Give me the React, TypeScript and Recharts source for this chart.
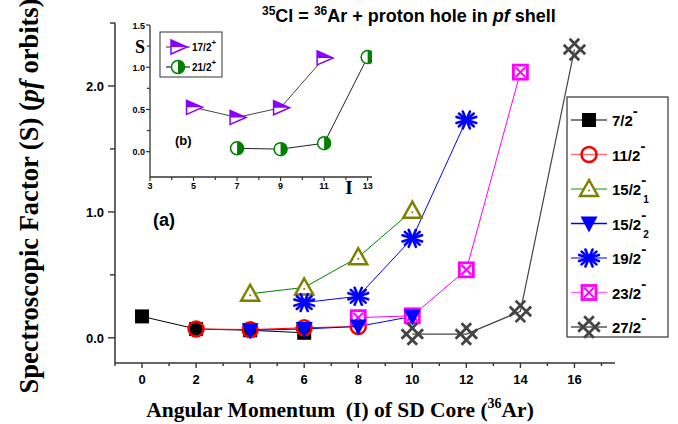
import React from 'react';
import { LineChart, Line, XAxis, YAxis } from 'recharts';

// ---------- main panel (a) data ----------
const I_72 = [0, 2, 4, 6];
const S_72 = [0.17, 0.07, 0.06, 0.04];
const I_112 = [2, 4, 6, 8];
const S_112 = [0.07, 0.065, 0.08, 0.09];
const I_152a = [4, 6, 8, 10];
const S_152a = [0.35, 0.4, 0.64, 1.01];
const I_152b = [4, 6, 8, 10];
const S_152b = [0.06, 0.07, 0.09, 0.17];
const I_192 = [6, 8, 10, 12];
const S_192 = [0.28, 0.33, 0.79, 1.73];
const I_232 = [8, 10, 12, 14];
const S_232 = [0.16, 0.175, 0.54, 2.11];
const I_272 = [10, 12, 14, 16];
const S_272 = [0.03, 0.03, 0.21, 2.29];

// ---------- inset panel (b) data ----------
const I_172p = [5, 7, 9, 11];
const S_172p = [0.525, 0.405, 0.52, 1.11];
const I_212p = [7, 9, 11, 13];
const S_212p = [0.04, 0.03, 0.1, 1.12];

const X_TICKS = [-1, 0, 1, 2, 3, 4, 5, 6, 7, 8, 9, 10, 11, 12, 13, 14, 15, 16, 17];
const Y_TICKS = [0, 0.5, 1, 1.5, 2, 2.5];
const INSET_X_TICKS = [3, 4, 5, 6, 7, 8, 9, 10, 11, 12, 13];
const INSET_Y_TICKS = [0, 0.25, 0.5, 0.75, 1, 1.25, 1.5];

const zip = (xs: number[], ys: number[]) => xs.map((x, i) => ({ x, y: ys[i] }));

const SANS = 'Liberation Sans, Arial, sans-serif';
const SERIF = 'Liberation Serif, Times New Roman, serif';
const AX = '#333';

// ---------- marker shapes ----------
const mkSquare = (cx: number, cy: number, k?: any) => (
  <rect key={k} x={cx - 7} y={cy - 7} width={14} height={14} fill="#000" />
);
const mkCircle = (cx: number, cy: number, k?: any) => (
  <circle key={k} cx={cx} cy={cy} r={7.5} fill="none" stroke="#ff0000" strokeWidth={2.5} />
);
const mkTriUp = (cx: number, cy: number, k?: any) => (
  <g key={k}>
    <polygon points={`${cx},${cy - 9} ${cx - 9},${cy + 7} ${cx + 9},${cy + 7}`} fill="#fff" stroke="#808000" strokeWidth={2.5} strokeLinejoin="miter" />
    <circle cx={cx} cy={cy + 1.5} r={1} fill="#808000" />
  </g>
);
const mkTriDown = (cx: number, cy: number, k?: any) => (
  <polygon key={k} points={`${cx - 8.5},${cy - 7} ${cx + 8.5},${cy - 7} ${cx},${cy + 9}`} fill="#0000ff" />
);
const mkStar = (cx: number, cy: number, k?: any) => {
  const angs = [20, 45, 70, 110, 135, 160];
  return (
    <g key={k} stroke="#0000ff" strokeWidth={2.6} strokeLinecap="round">
      {angs.map((a) => {
        const r = (a * Math.PI) / 180;
        const dx = Math.cos(r) * 10.5;
        const dy = Math.sin(r) * 9;
        return <line key={a} x1={cx - dx} y1={cy - dy} x2={cx + dx} y2={cy + dy} />;
      })}
    </g>
  );
};
const mkBoxX = (cx: number, cy: number, k?: any) => (
  <g key={k}>
    <rect x={cx - 7} y={cy - 7} width={14} height={14} fill="#fff" stroke="#ff00ff" strokeWidth={2.8} />
    <line x1={cx - 5} y1={cy - 5} x2={cx + 5} y2={cy + 5} stroke="#ff00ff" strokeWidth={2} />
    <line x1={cx - 5} y1={cy + 5} x2={cx + 5} y2={cy - 5} stroke="#ff00ff" strokeWidth={2} />
  </g>
);
const mkHatch = (cx: number, cy: number, k?: any) => {
  const d = 4.2;
  const L = 11;
  const s = Math.SQRT1_2;
  const segs: any[] = [];
  [-d, d].forEach((o, i) => {
    const ox = o * s, oy = -o * s;
    segs.push(<line key={'a' + i} x1={cx + ox - L * s} y1={cy + oy - L * s} x2={cx + ox + L * s} y2={cy + oy + L * s} />);
  });
  [-d, d].forEach((o, i) => {
    const ox = o * s, oy = o * s;
    segs.push(<line key={'b' + i} x1={cx + ox - L * s} y1={cy + oy + L * s} x2={cx + ox + L * s} y2={cy + oy - L * s} />);
  });
  return (
    <g key={k} stroke="#444" strokeWidth={2.8} strokeLinecap="butt">
      {segs}
    </g>
  );
};
const mkHalfTri = (cx: number, cy: number, k?: any) => (
  <g key={k}>
    <polygon points={`${cx - 7},${cy - 7} ${cx - 7},${cy + 7} ${cx + 9},${cy}`} fill="#fff" stroke="#8a00ff" strokeWidth={1.5} />
    <polygon points={`${cx - 7},${cy - 7} ${cx + 9},${cy} ${cx - 7},${cy}`} fill="#8a00ff" />
  </g>
);
const mkHalfCircle = (cx: number, cy: number, k?: any) => (
  <g key={k}>
    <circle cx={cx} cy={cy} r={6.5} fill="#fff" stroke="#008000" strokeWidth={1.5} />
    <path d={`M ${cx} ${cy - 6.5} A 6.5 6.5 0 0 1 ${cx} ${cy + 6.5} Z`} fill="#008000" />
  </g>
);

const dotOf = (fn: (cx: number, cy: number, k?: any) => any) => (p: any) => {
  if (p == null || p.cx == null || p.cy == null) return <g key={p?.index} />;
  return fn(p.cx, p.cy, `d${p.index}`);
};

// ---------- ticks ----------
const MainXTick = (p: any) => {
  const v = p.payload.value;
  const major = v >= 0 && v % 2 === 0;
  return (
    <g>
      <line x1={p.x} x2={p.x} y1={p.y} y2={p.y + (major ? 5 : 3)} stroke={AX} strokeWidth={1.4} />
      {major && (
        <text x={p.x} y={p.y + 21} textAnchor="middle" fontFamily={SANS} fontWeight="bold" fontSize={13} fill="#000">
          {v}
        </text>
      )}
    </g>
  );
};
const MainYTick = (p: any) => {
  const v = p.payload.value;
  const major = Number.isInteger(v);
  return (
    <g>
      <line x1={p.x - (major ? 7 : 5)} x2={p.x} y1={p.y} y2={p.y} stroke={AX} strokeWidth={1.4} />
      {major && (
        <text x={p.x - 11} y={p.y + 5} textAnchor="end" fontFamily={SANS} fontWeight="bold" fontSize={13} fill="#000">
          {v.toFixed(1)}
        </text>
      )}
    </g>
  );
};
const InsetXTick = (p: any) => {
  const v = p.payload.value;
  const major = v % 2 === 1;
  return (
    <g>
      <line x1={p.x} x2={p.x} y1={p.y} y2={p.y + (major ? 4 : 3)} stroke={AX} strokeWidth={1.2} />
      {major && (
        <text x={p.x} y={p.y + 12} textAnchor="middle" fontFamily={SANS} fontWeight="bold" fontSize={9} fill="#000">
          {v}
        </text>
      )}
    </g>
  );
};
const InsetYTick = (p: any) => {
  const v = p.payload.value;
  const major = Math.abs(v * 2 - Math.round(v * 2)) < 1e-6;
  return (
    <g>
      <line x1={p.x - (major ? 4 : 3)} x2={p.x} y1={p.y} y2={p.y} stroke={AX} strokeWidth={1.2} />
      {major && (
        <text x={p.x - 5} y={p.y + 3.5} textAnchor="end" fontFamily={SANS} fontWeight="bold" fontSize={9} fill="#000">
          {v.toFixed(1)}
        </text>
      )}
    </g>
  );
};

// ---------- legend ----------
const MAIN_LEGEND = [
  { label: '7/2', sub: '', line: '#555', mk: mkSquare },
  { label: '11/2', sub: '', line: '#ff7070', mk: mkCircle },
  { label: '15/2', sub: '1', line: '#5cb85c', mk: mkTriUp },
  { label: '15/2', sub: '2', line: '#0000ff', mk: mkTriDown },
  { label: '19/2', sub: '', line: '#4d4dff', mk: mkStar },
  { label: '23/2', sub: '', line: '#ff66ff', mk: mkBoxX },
  { label: '27/2', sub: '', line: '#555', mk: mkHatch },
];
const INSET_LEGEND = [
  { label: '17/2', line: '#555', mk: mkHalfTri },
  { label: '21/2', line: '#222', mk: mkHalfCircle },
];

const Overlay = () => (
  <svg width={678} height={424} style={{ position: 'absolute', left: 0, top: 0, pointerEvents: 'none' }}>
    {/* title */}
    <text x={262} y={22} fontFamily={SANS} fontWeight="bold" fontSize={18} fill="#000">
      <tspan fontSize={12} dy={-7}>35</tspan>
      <tspan dy={7}>Cl = </tspan>
      <tspan fontSize={12} dy={-7}>36</tspan>
      <tspan dy={7}>Ar + proton hole in </tspan>
      <tspan fontStyle="italic">pf</tspan>
      <tspan> shell</tspan>
    </text>
    {/* y axis title */}
    <text transform="translate(38,196) rotate(-90)" textAnchor="middle" fontFamily={SERIF} fontWeight="bold" fontSize={26.5} fill="#000">
      Spectroscopic Factor (S) (<tspan fontStyle="italic">pf</tspan> orbits)
    </text>
    {/* x axis title */}
    <text x={340} y={417} textAnchor="middle" fontFamily={SERIF} fontWeight="bold" fontSize={21.5} fill="#000" xmlSpace="preserve">
      Angular Momentum{'\u00a0\u00a0'}(I) of SD Core (<tspan fontSize={14} dy={-9}>36</tspan>
      <tspan dy={9}>Ar)</tspan>
    </text>
    {/* panel labels */}
    <text x={153} y={226} fontFamily={SANS} fontWeight="bold" fontSize={18} fill="#000">(a)</text>
    <text x={175} y={145} fontFamily={SANS} fontWeight="bold" fontSize={13} fill="#000">(b)</text>
    <text x={140} y={53} textAnchor="middle" fontFamily={SERIF} fontWeight="bold" fontSize={18} fill="#000">S</text>
    <text x={349} y={194} textAnchor="middle" fontFamily={SERIF} fontWeight="bold" fontSize={19} fill="#000">I</text>

    {/* main legend */}
    <rect x={567} y={97} width={101} height={240} fill="#fff" stroke="#333" strokeWidth={1.2} />
    {MAIN_LEGEND.map((e, i) => {
      const cy = 120 + i * 34.5;
      return (
        <g key={i}>
          <line x1={571} x2={607} y1={cy} y2={cy} stroke={e.line} strokeWidth={1.4} />
          {e.mk(589, cy)}
          <text x={612} y={cy + 6} fontFamily={SANS} fontWeight="bold" fontSize={15} fill="#000">
            {e.label}
            <tspan fontSize={15} dy={-10}>-</tspan>
            {e.sub && (
              <tspan fontSize={10} dy={18} dx={-3}>
                {e.sub}
              </tspan>
            )}
          </text>
        </g>
      );
    })}

    {/* inset legend */}
    <rect x={160} y={32} width={62} height={45} fill="#fff" stroke="#333" strokeWidth={1} />
    {INSET_LEGEND.map((e, i) => {
      const cy = 47 + i * 20;
      return (
        <g key={i}>
          <line x1={166} x2={190} y1={cy} y2={cy} stroke={e.line} strokeWidth={1.2} />
          {e.mk(178, cy)}
          <text x={192} y={cy + 4} fontFamily={SANS} fontWeight="bold" fontSize={10} fill="#000">
            {e.label}
            <tspan fontSize={8} dy={-6}>+</tspan>
          </text>
        </g>
      );
    })}
  </svg>
);

export default function App() {
  return (
    <div style={{ position: 'absolute', left: 0, top: 0, width: 678, height: 424, background: '#fff' }}>
      <div style={{ position: 'absolute', left: 0, top: 0 }}>
        <LineChart width={678} height={424} margin={{ top: 23, right: 63, bottom: 31, left: 55 }}>
          <XAxis
            type="number"
            dataKey="x"
            domain={[-1, 17.5]}
            ticks={X_TICKS}
            interval={0}
            height={30}
            tickSize={0}
            tickMargin={0}
            tickLine={false}
            tick={MainXTick}
            axisLine={{ stroke: AX, strokeWidth: 1.5 }}
            allowDataOverflow
          />
          <YAxis
            type="number"
            domain={[-0.2, 2.5]}
            ticks={Y_TICKS}
            interval={0}
            width={60}
            tickSize={0}
            tickMargin={0}
            tickLine={false}
            tick={MainYTick}
            axisLine={{ stroke: AX, strokeWidth: 1.5 }}
            allowDataOverflow
          />
          <Line data={zip(I_72, S_72)} dataKey="y" stroke="#000" strokeWidth={1} dot={dotOf(mkSquare)} activeDot={false} isAnimationActive={false} />
          <Line data={zip(I_112, S_112)} dataKey="y" stroke="#ff0000" strokeWidth={1.2} dot={dotOf(mkCircle)} activeDot={false} isAnimationActive={false} />
          <Line data={zip(I_152a, S_152a)} dataKey="y" stroke="#008000" strokeWidth={1} dot={dotOf(mkTriUp)} activeDot={false} isAnimationActive={false} />
          <Line data={zip(I_232, S_232)} dataKey="y" stroke="#ff00ff" strokeWidth={1} dot={dotOf(mkBoxX)} activeDot={false} isAnimationActive={false} />
          <Line data={zip(I_152b, S_152b)} dataKey="y" stroke="#0000ff" strokeWidth={1} dot={dotOf(mkTriDown)} activeDot={false} isAnimationActive={false} />
          <Line data={zip(I_192, S_192)} dataKey="y" stroke="#0000ff" strokeWidth={1} dot={dotOf(mkStar)} activeDot={false} isAnimationActive={false} />
          <Line data={zip(I_272, S_272)} dataKey="y" stroke="#444" strokeWidth={1.2} dot={dotOf(mkHatch)} activeDot={false} isAnimationActive={false} />
        </LineChart>
      </div>
      <div style={{ position: 'absolute', left: 0, top: 0 }}>
        <LineChart width={400} height={200} margin={{ top: 25, right: 28, bottom: 3, left: 120 }}>
          <XAxis
            type="number"
            dataKey="x"
            domain={[3, 13.2]}
            ticks={INSET_X_TICKS}
            interval={0}
            height={20}
            tickSize={0}
            tickMargin={0}
            tickLine={false}
            tick={InsetXTick}
            axisLine={{ stroke: AX, strokeWidth: 1.3 }}
            allowDataOverflow
          />
          <YAxis
            type="number"
            domain={[-0.3, 1.5]}
            ticks={INSET_Y_TICKS}
            interval={0}
            width={30}
            tickSize={0}
            tickMargin={0}
            tickLine={false}
            tick={InsetYTick}
            axisLine={{ stroke: AX, strokeWidth: 1.3 }}
            allowDataOverflow
          />
          <Line data={zip(I_172p, S_172p)} dataKey="y" stroke="#444" strokeWidth={1} dot={dotOf(mkHalfTri)} activeDot={false} isAnimationActive={false} />
          <Line data={zip(I_212p, S_212p)} dataKey="y" stroke="#222" strokeWidth={1} dot={dotOf(mkHalfCircle)} activeDot={false} isAnimationActive={false} />
        </LineChart>
      </div>
      <Overlay />
    </div>
  );
}
